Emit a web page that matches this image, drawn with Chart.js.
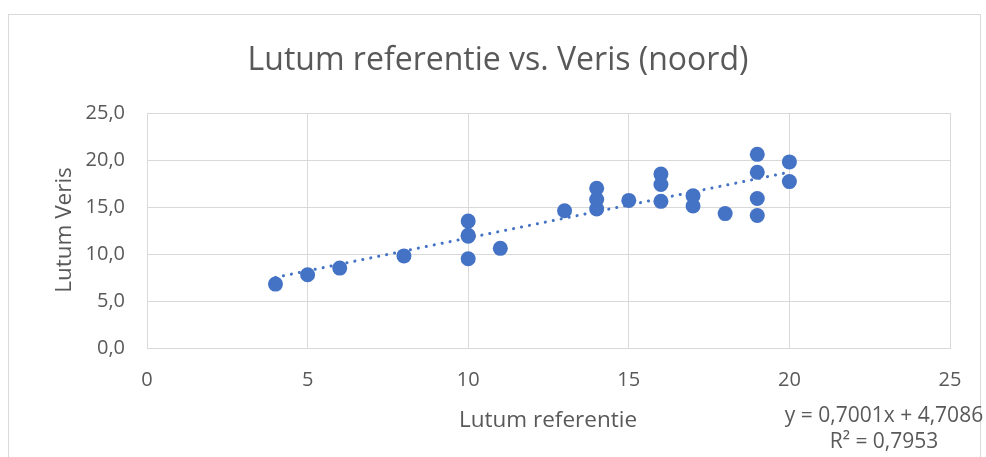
<!DOCTYPE html>
<html>
<head>
<meta charset="utf-8">
<script src="https://cdn.jsdelivr.net/npm/chart.js@4.4.0/dist/chart.umd.min.js"></script>
<style>
html,body{margin:0;padding:0;background:#fff;}
#wrap{position:relative;width:986px;height:457px;}
</style>
</head>
<body>
<div id="wrap"><canvas id="c" width="986" height="457"></canvas></div>
<script>
// Data
const xValues = [4, 5, 6, 8, 10, 10, 10, 10, 11, 13, 14, 14, 14, 15, 16, 16, 16, 17, 17, 18, 19, 19, 19, 19, 20, 20];
const yValues = [6.8, 7.8, 8.5, 9.8, 13.5, 12.0, 11.9, 9.5, 10.6, 14.6, 17.0, 15.8, 14.8, 15.7, 18.5, 17.4, 15.6, 16.2, 15.1, 14.3, 20.6, 18.7, 15.9, 14.1, 19.8, 17.7];
const trendSlope = 0.7001;
const trendIntercept = 4.7086;
const trendRange = [4, 20];
const xTicks = [0, 5, 10, 15, 20, 25];
const yTicks = [0, 5, 10, 15, 20, 25];
const titleText = 'Lutum referentie vs. Veris (noord)';
const xTitle = 'Lutum referentie';
const yTitle = 'Lutum Veris';
const eqLines = ['y = 0,7001x + 4,7086', 'R² = 0,7953'];

const FONT = '"Open Sans", "Noto Sans", sans-serif';
const GREY = '#595959';

const points = xValues.map((x, i) => ({x: x, y: yValues[i]}));
const trend = trendRange.map(x => ({x: x, y: trendSlope * x + trendIntercept}));

const decor = {
  id: 'decor',
  beforeDraw(chart) {
    const ctx = chart.ctx;
    ctx.save();
    ctx.fillStyle = '#fff';
    ctx.fillRect(0, 0, chart.width, chart.height);
    ctx.strokeStyle = '#d9d9d9';
    ctx.lineWidth = 1;
    ctx.strokeRect(8.5, 14.5, 972, 460);
    ctx.restore();
  },
  afterDraw(chart) {
    const ctx = chart.ctx;
    ctx.save();
    ctx.fillStyle = GREY;
    ctx.textAlign = 'center';
    ctx.textBaseline = 'alphabetic';
    ctx.font = '32px ' + FONT;
    ctx.fillText(titleText, 498, 70);
    ctx.font = '22.5px ' + FONT;
    ctx.fillText(xTitle, 548, 427);
    ctx.save();
    ctx.translate(71, 230);
    ctx.rotate(-Math.PI / 2);
    ctx.fillText(yTitle, 0, 0);
    ctx.restore();
    ctx.font = '21px ' + FONT;
    ctx.fillText(eqLines[0], 884, 422);
    ctx.fillText(eqLines[1], 884, 448);
    ctx.restore();
  }
};

new Chart(document.getElementById('c'), {
  type: 'scatter',
  data: {
    datasets: [
      {
        label: 'Veris',
        data: points,
        backgroundColor: '#4472c4',
        borderColor: '#4472c4',
        pointRadius: 7.5,
        pointHoverRadius: 7.5,
        borderWidth: 0,
        order: 1
      },
      {
        type: 'line',
        label: 'Trend',
        data: trend,
        borderColor: '#4472c4',
        borderWidth: 3,
        borderDash: [0.1, 8],
        borderCapStyle: 'round',
        pointRadius: 0,
        fill: false,
        order: 2
      }
    ]
  },
  options: {
    responsive: false,
    animation: false,
    devicePixelRatio: 1,
    layout: {padding: {left: 0, top: 113, right: 36, bottom: 0}},
    plugins: {legend: {display: false}, tooltip: {enabled: false}, title: {display: false}},
    scales: {
      x: {
        type: 'linear',
        min: 0, max: 25,
        afterFit(s) { s.height = 109; },
        afterBuildTicks(s) { s.ticks = xTicks.map(v => ({value: v})); },
        grid: {color: '#d9d9d9', lineWidth: 1, drawTicks: false},
        border: {color: '#d9d9d9'},
        ticks: {color: GREY, font: {family: FONT, size: 20}, padding: 20, callback: v => String(v)}
      },
      y: {
        type: 'linear',
        min: 0, max: 25,
        afterFit(s) { s.width = 147; },
        afterBuildTicks(s) { s.ticks = yTicks.map(v => ({value: v})); },
        grid: {color: '#d9d9d9', lineWidth: 1, drawTicks: false},
        border: {color: '#d9d9d9'},
        ticks: {color: GREY, font: {family: FONT, size: 20}, padding: 22,
          callback: v => v.toFixed(1).replace('.', ',')}
      }
    }
  },
  plugins: [decor]
});
</script>
</body>
</html>
